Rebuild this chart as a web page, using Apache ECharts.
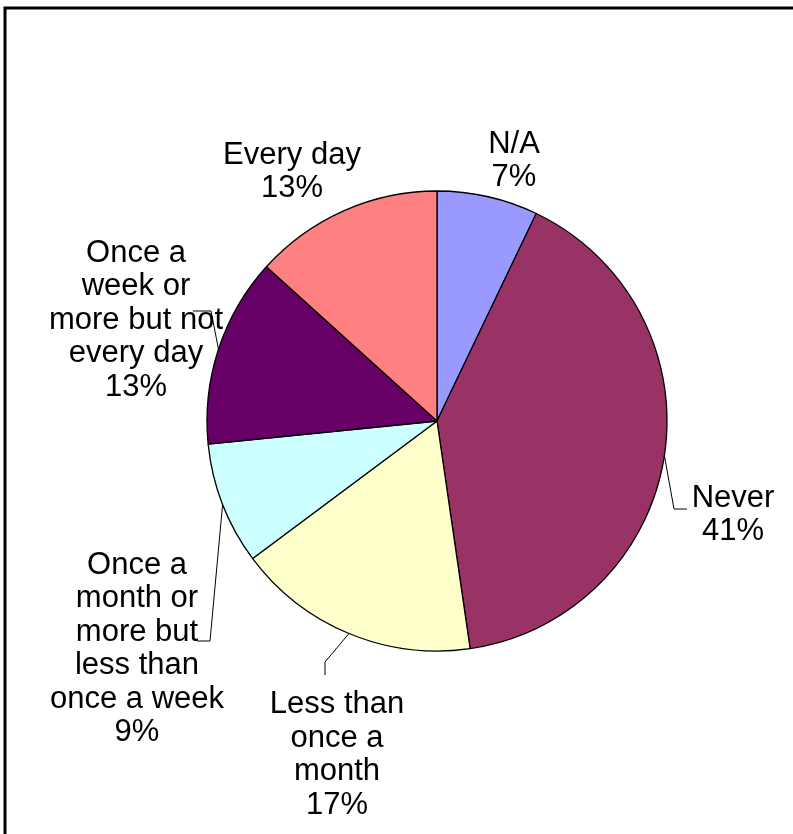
<!DOCTYPE html>
<html><head><meta charset="utf-8">
<script src="https://cdn.jsdelivr.net/npm/echarts@6/dist/echarts.min.js"></script>
<style>html,body{margin:0;padding:0;background:#fff}#c{width:793px;height:834px}</style>
</head><body><div id="c"></div>
<script>
const categories = ['N/A','Never','Less than once a month','Once a month or more but less than once a week','Once a week or more but not every day','Every day'];
const labelText = ['N/A','Never','Less than\nonce a\nmonth','Once a\nmonth or\nmore but\nless than\nonce a week','Once a\nweek or\nmore but not\nevery day','Every day'];
const values = [7.1, 40.6, 17.1, 8.6, 13.3, 13.3];
const colors = ['#9999FF','#993366','#FFFFCC','#CCFFFF','#660066','#FF8080'];
const labelCenters = [[514,161],[733,515],[337,755],[137,649],[136,320],[292,172]];
const labelElbows = [null, [[674,509],[687,509]], [[325,662],[325,675]], [[210,641],[197,641]], [[211,311],[193,311]], null];

const chart = echarts.init(document.getElementById('c'), null, {renderer:'canvas'});
const data = categories.map((c,i)=>({
  name: c, value: values[i],
  itemStyle: {color: colors[i]},
  labelLine: {show: !!labelElbows[i]}
}));
chart.setOption({
  animation:false,
  backgroundColor:'#fff',
  graphic:[{type:'rect', shape:{x:5,y:8,width:800,height:840}, style:{fill:'none', stroke:'#000', lineWidth:3}, z:100}],
  series:[{
    type:'pie',
    center:[437,421],
    radius:230,
    startAngle:90,
    clockwise:true,
    avoidLabelOverlap:false,
    data:data,
    itemStyle:{borderColor:'#000', borderWidth:1.3},
    emphasis:{disabled:true},
    label:{
      show:true, position:'outside',
      formatter:(p)=>labelText[p.dataIndex]+'\n'+p.percent.toFixed(0)+'%',
      fontFamily:'Liberation Sans, Arial, sans-serif',
      fontSize:31, lineHeight:33.5, color:'#000', align:'center'
    },
    labelLine:{show:true, lineStyle:{color:'#000', width:1}, length:10, length2:10},
    labelLayout:function(params){
      const i = params.dataIndex;
      const out = {x:labelCenters[i][0], y:labelCenters[i][1], align:'center', verticalAlign:'middle'};
      if (labelElbows[i] && params.labelLinePoints) {
        out.labelLinePoints = [params.labelLinePoints[0]].concat(labelElbows[i]);
      }
      return out;
    }
  }]
});
</script></body></html>
